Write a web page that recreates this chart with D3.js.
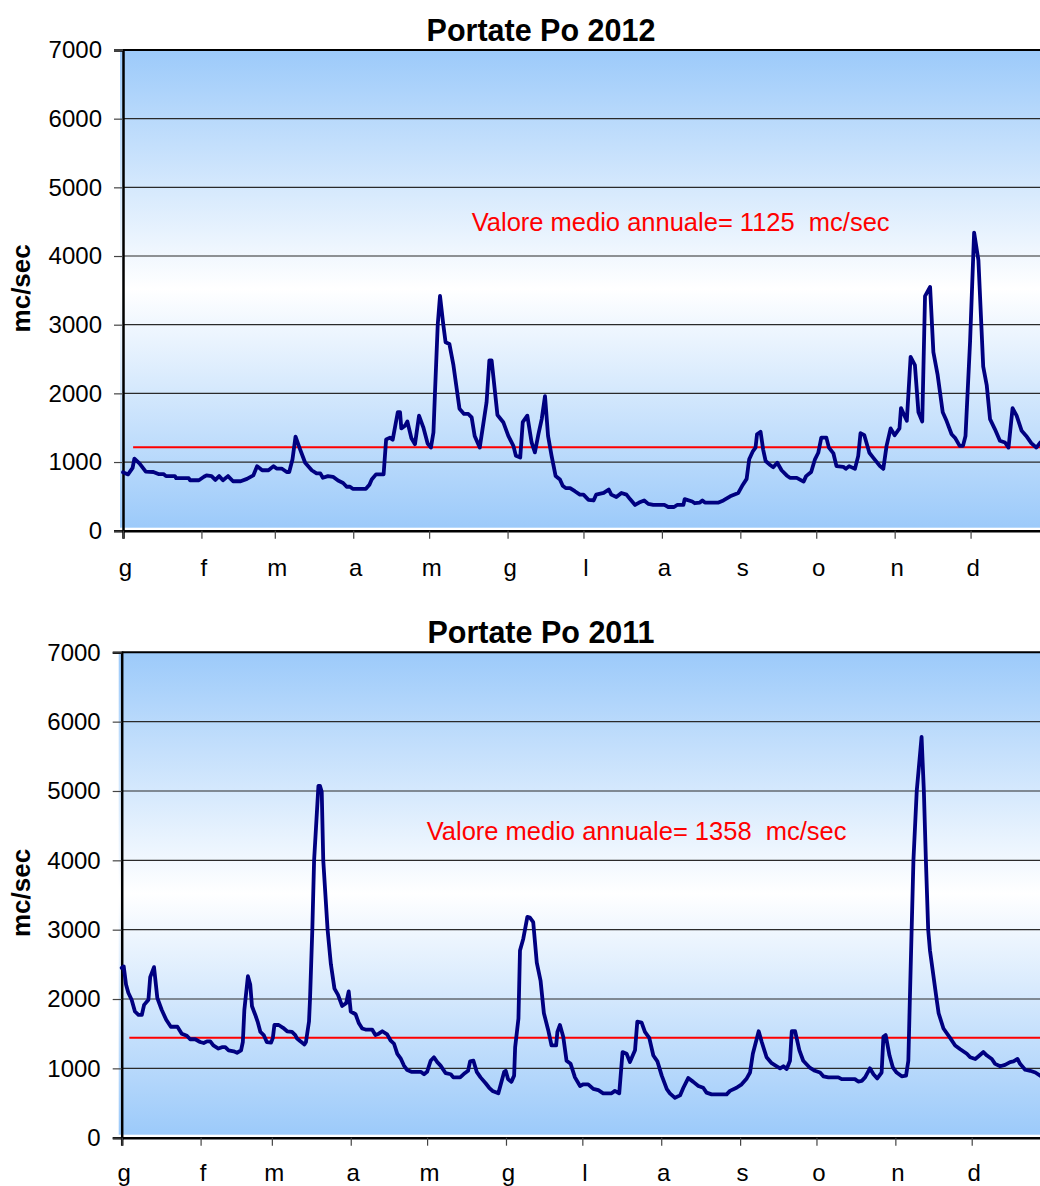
<!DOCTYPE html>
<html>
<head>
<meta charset="utf-8">
<script src="https://cdn.jsdelivr.net/npm/d3@7"></script>
<style>
  html, body { margin: 0; padding: 0; background: #fff; }
  svg { display: block; }
  text { font-family: "Liberation Sans", Arial, sans-serif; }
</style>
</head>
<body>
<svg id="chart" width="1040" height="1186"></svg>
<script>
// ---------- DATA ----------
const monthLabels = ["g","f","m","a","m","g","l","a","s","o","n","d"];
const yTickValues = [0, 1000, 2000, 3000, 4000, 5000, 6000, 7000];
const yAxisTitle = "mc/sec";

// 2012 (day of year, discharge mc/sec)
const days2012 = [0,2,3.8,4.5,6.5,9,12,14,16,17,20.5,21,26,26.5,30,32,33,35,36.5,38,39.5,41.5,43.5,46.5,49,51.5,53,55,57.5,59.5,60.7,62.7,64.7,65.7,67,68.2,70,72,74.6,76.5,78,79,81,83,85,87,88.4,89.7,90.8,96,97.4,98.3,100,103,104,105.5,106.6,108.6,109.5,110,111.5,112.4,114,115.4,117,118.7,120.4,121.7,122.7,123.3,124.4,125.3,126.6,127.5,129,130.6,133,134.8,136.5,137.8,139,141,143.7,144.8,145.7,148,150.3,152.3,154.3,155.3,157,158,159.8,161.5,162.8,164.2,165.5,166.8,168,169.4,171,172.7,173.8,175,176.7,178.6,180.6,182,184,186,187,190,192,193,195,197,199,200.4,202.4,204,206,207.6,209.6,214,215.5,217.8,219,221.5,222,225,226,228,229,230,235.4,237.3,240,243.2,245,246.5,247.5,249,250,250.6,252,253,254,255.5,257,258.6,260.3,262.3,263.6,266.3,269,270,272,273.5,274.8,276,278,279,280.8,282,284.7,285.7,287,289.3,290.6,291.5,293,295,296.5,299.2,300.5,301.8,303.4,305,306.9,307.5,309.8,311.3,313,314.4,315.9,317,319,320.3,322,324,325.5,327.5,329,330.7,332,333,334.8,336.4,338.1,340,341.4,342.7,344.6,346.6,348.6,350,351.6,353.2,355.2,357,359,361,362.6,364.5];
const flow2012 = [850,820,915,1050,980,860,855,825,825,795,795,765,765,735,735,785,805,795,740,795,735,795,720,720,755,805,940,880,880,940,905,905,855,855,1040,1370,1185,990,880,835,835,770,795,785,730,695,640,640,610,610,670,745,820,820,1330,1355,1325,1725,1725,1490,1530,1590,1345,1260,1675,1505,1270,1210,1430,2000,3000,3420,3000,2745,2720,2410,1775,1700,1700,1650,1380,1210,1870,2480,2480,1685,1580,1380,1235,1090,1065,1580,1675,1285,1140,1405,1625,1960,1380,1090,795,745,655,620,620,575,525,525,450,440,525,550,600,525,490,550,525,460,375,410,440,390,375,375,345,345,375,375,460,425,400,410,440,410,410,440,500,550,670,755,1040,1160,1210,1405,1440,1185,1015,965,925,990,880,805,770,770,715,795,855,1040,1135,1355,1355,1210,1125,940,930,900,940,900,1090,1420,1390,1135,1065,940,900,1235,1490,1390,1490,1785,1600,2530,2410,1725,1590,3415,3550,2600,2265,1725,1600,1405,1345,1235,1235,1380,2750,4340,3940,2390,2115,1625,1480,1310,1285,1210,1785,1675,1455,1380,1275,1210,1285,1300];

// 2011 (day of year, discharge mc/sec)
const days2011 = [0,0.8,1.7,2.6,3.9,5.2,6.6,7.9,8.8,10.5,11.2,12.7,14,15.7,17.5,19.3,21.9,23.6,25.6,26.9,28.9,30.8,32.2,33.5,34.8,36,38,39.4,40.7,42,44,45.3,46.9,47.6,48.2,49.6,50.5,51.2,52.5,53.4,54.5,55.8,57,58.7,59.4,60,61.7,63.4,65,66.9,68.2,68.9,70.2,71.8,72.4,73.6,74.0,74.9,75.6,77.3,77.9,78.6,79.2,80.9,82.2,83.6,85,86.6,88.2,89.2,90,91.9,93.2,94.5,95.8,98.4,99.7,101,102.4,104.3,105.6,107,108.3,109.6,110.9,112.2,113.8,117.5,118.8,120,121.4,122.7,124,125.3,127.3,129.3,130.3,133,134.8,136.1,136.9,138.2,139.5,141,143,144.4,145.7,148,150.3,150.9,151.8,153.1,154.2,154.6,155.9,156.5,157.8,159.4,160.4,161.7,163.1,164.6,165.9,167.6,168.9,170.7,171.2,172.2,173.5,174.8,176.4,178.1,180.1,181.4,183.3,185.3,187.3,189.2,192.5,193.8,195.5,196.8,198.4,199.7,201.7,202.6,204.3,205.6,207.3,208.9,210.5,212.2,214.2,215.4,217.4,219.4,220.7,222.6,224.6,226.6,228.5,229.8,231.8,237.7,239,241.6,243.6,245.6,246.9,248,250.3,251.5,253.4,255.4,257.4,258.7,260,261.3,262.6,263.3,264.6,266.3,267.8,270.2,272.4,274.4,275.7,277.7,281.6,282.9,288.1,289.4,290.8,292.1,294,295.4,296.9,298.6,299.3,300.2,301.7,303,304.5,306.5,308.2,309.1,309.7,310.4,311.1,312.4,314.3,315.2,316,316.9,317.6,320.2,321,322.9,325.5,327.5,329.5,332.1,333.4,335.4,336.7,338.6,340,341.9,343.2,345.2,347.1,349.1,350.4,352,353,355,357,359,360.9,362.5,364];
const flow2011 = [2450,2470,2210,2090,1990,1820,1770,1770,1915,1990,2315,2460,2015,1845,1700,1600,1600,1500,1470,1420,1420,1380,1365,1390,1390,1330,1285,1305,1305,1260,1245,1225,1260,1380,1845,2330,2210,1895,1770,1675,1525,1480,1380,1370,1440,1625,1625,1585,1535,1525,1480,1430,1390,1345,1380,1675,2000,3000,4000,5075,5075,4990,4000,3000,2500,2150,2060,1900,1940,2110,1820,1780,1650,1575,1560,1560,1480,1500,1535,1490,1405,1355,1210,1145,1040,975,950,950,915,950,1110,1160,1090,1040,930,915,870,870,930,965,1100,1110,950,870,785,720,675,640,950,965,845,805,895,1305,1720,2700,2870,3185,3175,3110,2525,2260,1795,1550,1330,1330,1525,1625,1455,1110,1065,870,745,770,770,705,685,640,640,675,640,1235,1210,1090,1260,1675,1660,1525,1440,1185,1100,895,700,640,575,610,720,860,805,745,720,650,625,625,675,720,770,855,940,1210,1535,1380,1160,1075,1030,1000,1030,990,1110,1535,1535,1260,1110,1015,965,940,885,870,870,845,845,810,820,870,1000,915,855,940,1455,1480,1185,1015,940,885,895,1110,2000,3000,4000,5000,5780,5000,4000,3000,2700,2000,1795,1575,1440,1330,1275,1210,1160,1135,1175,1235,1185,1135,1065,1030,1050,1090,1100,1135,1065,980,965,940,895,870,850];

const titles = ["Portate Po 2012", "Portate Po 2011"];
const years = [2012, 2011];
const meanLabels = ["Valore medio annuale= 1125  mc/sec", "Valore medio annuale= 1358  mc/sec"];
const meanDrawn = [1215, 1440];      // level at which the red line is drawn
const meanStartDay = [4, 3];

// ---------- LAYOUT ----------
const layouts = [
  { left: 123,   right: 1049,   top: 50,    bottom: 530.7, labelX: 471.7, labelDy: 180.7, xLabelY: 45 },
  { left: 121.7, right: 1050.6, top: 652.3, bottom: 1137.7, labelX: 426.7, labelDy: 187.7, xLabelY: 43.5 }
];
const series = [
  { days: days2012, flow: flow2012 },
  { days: days2011, flow: flow2011 }
];

const svg = d3.select("#chart");
const defs = svg.append("defs");
const grad = defs.append("linearGradient").attr("id", "bg").attr("x1", 0).attr("y1", 0).attr("x2", 0).attr("y2", 1);
grad.append("stop").attr("offset", "0%").attr("stop-color", "#9ccafa");
grad.append("stop").attr("offset", "50%").attr("stop-color", "#ffffff");
grad.append("stop").attr("offset", "100%").attr("stop-color", "#9ccafa");

const DAY = 864e5;
const FONT = "'Liberation Sans', Arial, sans-serif";

layouts.forEach((L, k) => {
  const yr = years[k];
  const t0 = Date.UTC(yr, 0, 1), t1 = Date.UTC(yr + 1, 0, 1);
  const x = d3.scaleUtc().domain([new Date(t0), new Date(t1)]).range([L.left, L.right]);
  const y = d3.scaleLinear().domain([0, 7000]).range([L.bottom, L.top]);
  const g = svg.append("g");

  // plot background gradient
  g.append("rect")
    .attr("x", L.left - 3).attr("y", L.top)
    .attr("width", L.right - L.left + 3).attr("height", y(0) - L.top - 3)
    .attr("fill", "url(#bg)");

  // grid lines
  g.selectAll("line.grid").data(yTickValues.filter(v => v > 0 && v < 7000)).enter()
    .append("line").attr("class", "grid")
    .attr("x1", L.left).attr("x2", L.right)
    .attr("y1", d => y(d)).attr("y2", d => y(d))
    .attr("stroke", "#2a2a2a").attr("stroke-width", 1.2);
  // top border (7000)
  g.append("line").attr("x1", L.left).attr("x2", L.right)
    .attr("y1", y(7000)).attr("y2", y(7000))
    .attr("stroke", "#000").attr("stroke-width", 2);

  // y axis
  const yAxis = d3.axisLeft(y).tickValues(yTickValues).tickSize(9).tickPadding(12).tickFormat(d3.format("d"));
  const ya = g.append("g").attr("transform", `translate(${L.left},0)`).call(yAxis);
  ya.select(".domain").attr("stroke", "#000").attr("stroke-width", 2.5);
  ya.selectAll(".tick line").attr("stroke", "#444").attr("stroke-width", 1.2);
  ya.selectAll(".tick text").attr("font-size", 24).attr("fill", "#000")
    .style("font-family", FONT).attr("dy", "0.33em");

  // x axis
  const months = d3.utcMonth.range(new Date(t0), new Date(t1));
  const xAxis = d3.axisBottom(x).tickValues(months).tickSize(8).tickPadding(0)
    .tickFormat((d, i) => monthLabels[i]);
  const xa = g.append("g").attr("transform", `translate(0,${y(0)})`).call(xAxis);
  xa.select(".domain").attr("stroke", "#000").attr("stroke-width", 2.5);
  xa.selectAll(".tick line").attr("stroke", "#444").attr("stroke-width", 1.2);
  xa.selectAll(".tick text").attr("font-size", 24).attr("fill", "#000")
    .style("font-family", FONT)
    .attr("dx", 2).attr("y", L.xLabelY).attr("dy", 0);

  // mean line
  g.append("line")
    .attr("x1", x(new Date(t0 + meanStartDay[k] * DAY))).attr("x2", L.right)
    .attr("y1", y(meanDrawn[k])).attr("y2", y(meanDrawn[k]))
    .attr("stroke", "#ff0000").attr("stroke-width", 2);

  // data line
  const s = series[k];
  const pts = s.days.map((d, i) => [new Date(t0 + d * DAY), s.flow[i]]);
  g.append("path").datum(pts)
    .attr("fill", "none").attr("stroke", "#000080").attr("stroke-width", 3.8)
    .attr("stroke-linejoin", "round").attr("stroke-linecap", "round")
    .attr("d", d3.line().x(p => x(p[0])).y(p => y(p[1])));

  // mean label
  g.append("text")
    .attr("x", L.labelX).attr("y", L.top + L.labelDy)
    .attr("font-size", 25.5).attr("fill", "#ff0000")
    .style("white-space", "pre")
    .text(meanLabels[k]);

  // title
  g.append("text")
    .attr("x", 541).attr("y", L.top - 9.5)
    .attr("text-anchor", "middle").attr("font-size", 30.5).attr("font-weight", "bold")
    .text(titles[k]);

  // y axis title
  g.append("text")
    .attr("transform", `translate(30,${(L.top + L.bottom) / 2 - 2}) rotate(-90)`)
    .attr("text-anchor", "middle").attr("font-size", 26).attr("font-weight", "bold")
    .text(yAxisTitle);
});
</script>
</body>
</html>
